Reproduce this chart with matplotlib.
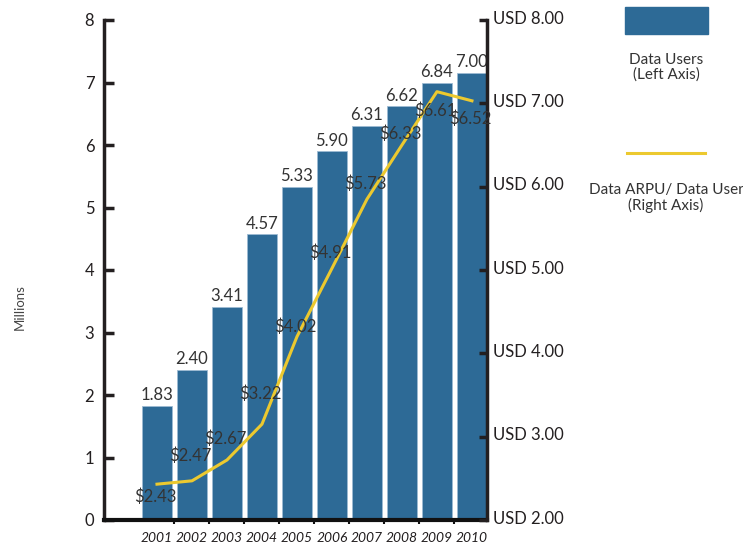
import matplotlib.pyplot as plt
from matplotlib.patches import Rectangle
from matplotlib.lines import Line2D
from matplotlib.transforms import ScaledTranslation

plt.rcParams['font.family'] = ['Lato', 'DejaVu Sans']

years = ['2001', '2002', '2003', '2004', '2005', '2006', '2007', '2008', '2009', '2010']
# bar heights as drawn (millions) and the printed labels
users = [1.83, 2.40, 3.41, 4.57, 5.33, 5.90, 6.31, 6.62, 7.00, 7.16]
users_lbl = ['1.83', '2.40', '3.41', '4.57', '5.33', '5.90', '6.31', '6.62', '6.84', '7.00']
# ARPU line as drawn (USD) and the printed values
arpu = [2.43, 2.47, 2.72, 3.15, 4.20, 5.02, 5.85, 6.50, 7.14, 7.03]
arpu_lbl = [2.43, 2.47, 2.67, 3.22, 4.02, 4.91, 5.73, 6.33, 6.61, 6.52]

bar_col = '#2d6a96'
line_col = '#ecc92f'
txt_col = '#333333'
ax_col = '#231f20'

fig = plt.figure(figsize=(7.43, 5.5), dpi=100)
ax = fig.add_axes([104 / 743, 30 / 550, 383 / 743, 500 / 550])
ax2 = ax.twinx()

x = list(range(len(years)))
ax.bar(x, users, width=0.875, color=bar_col, edgecolor='#9dbbd3', linewidth=0.6, zorder=2)
for i, v in enumerate(users):
    ax.text(i, v + 0.04, users_lbl[i], ha='center', va='bottom', fontsize=12, color=txt_col)

ax2.plot(x, arpu, color=line_col, lw=2.2, zorder=3)
for i, v in enumerate(arpu_lbl):
    off = -0.15 if i == 0 else 0.3
    ax2.text(i - 0.05, v + off, '$%.2f' % v, ha='center', va='center', fontsize=12,
             color=txt_col, zorder=4)

ax.set_xlim(-1.514, 9.43)
ax.set_ylim(0, 8)
ax2.set_ylim(2, 8)
ax.set_zorder(1)
ax2.set_zorder(2)
ax2.patch.set_visible(False)

for a in (ax, ax2):
    a.spines['top'].set_visible(False)
ax.spines['right'].set_visible(False)
ax2.spines['left'].set_visible(False)
ax2.spines['bottom'].set_visible(False)
ax.spines['left'].set_linewidth(2.5)
ax.spines['left'].set_color(ax_col)
ax.spines['bottom'].set_linewidth(3)
ax.spines['bottom'].set_color('#111111')
ax2.spines['right'].set_linewidth(2.5)
ax2.spines['right'].set_color(ax_col)

ax.set_yticks(range(0, 9))
ax.tick_params(axis='y', direction='in', length=7, width=2.5, color=ax_col, pad=7,
               labelsize=12, labelcolor=ax_col)
ax2.set_yticks(range(2, 9))
ax2.set_yticklabels(['USD %d.00' % v for v in range(2, 9)])
ax2.tick_params(axis='y', direction='in', length=6, width=2.5, color=ax_col, pad=4,
                labelsize=12, labelcolor=ax_col)
shift = ScaledTranslation(0, 3 / 100, fig.dpi_scale_trans)
for lbl in ax2.get_yticklabels():
    lbl.set_transform(lbl.get_transform() + shift)

ax.set_xticks(x)
ax.set_xticklabels(years, style='italic', fontsize=10, color=ax_col)
ax.set_xticks([i + 0.5 for i in range(len(years) - 1)], minor=True)
ax.tick_params(axis='x', which='major', length=0, pad=9)
ax.tick_params(axis='x', which='minor', direction='out', length=3, width=1.5, color='#111111')

fig.text(20 / 743, 1 - 307 / 550, 'Millions', rotation=90, ha='center', va='center',
         fontsize=9.5, color='#444444')

# legend drawn by hand on the right
fig.patches.append(Rectangle((625 / 743, 1 - 34 / 550), 83 / 743, 27 / 550,
                             transform=fig.transFigure, color=bar_col))
fig.text(666 / 743, 1 - 67 / 550, 'Data Users\n(Left Axis)', ha='center', va='center',
         fontsize=11, color=txt_col, linespacing=1.05)
fig.lines.append(Line2D([627 / 743, 705 / 743], [1 - 153 / 550] * 2,
                        transform=fig.transFigure, color=line_col, lw=2.2))
fig.text(666 / 743, 1 - 198 / 550, 'Data ARPU/ Data User\n(Right Axis)', ha='center',
         va='center', fontsize=11, color=txt_col, linespacing=1.05)

fig.savefig('out.png', dpi=100)
